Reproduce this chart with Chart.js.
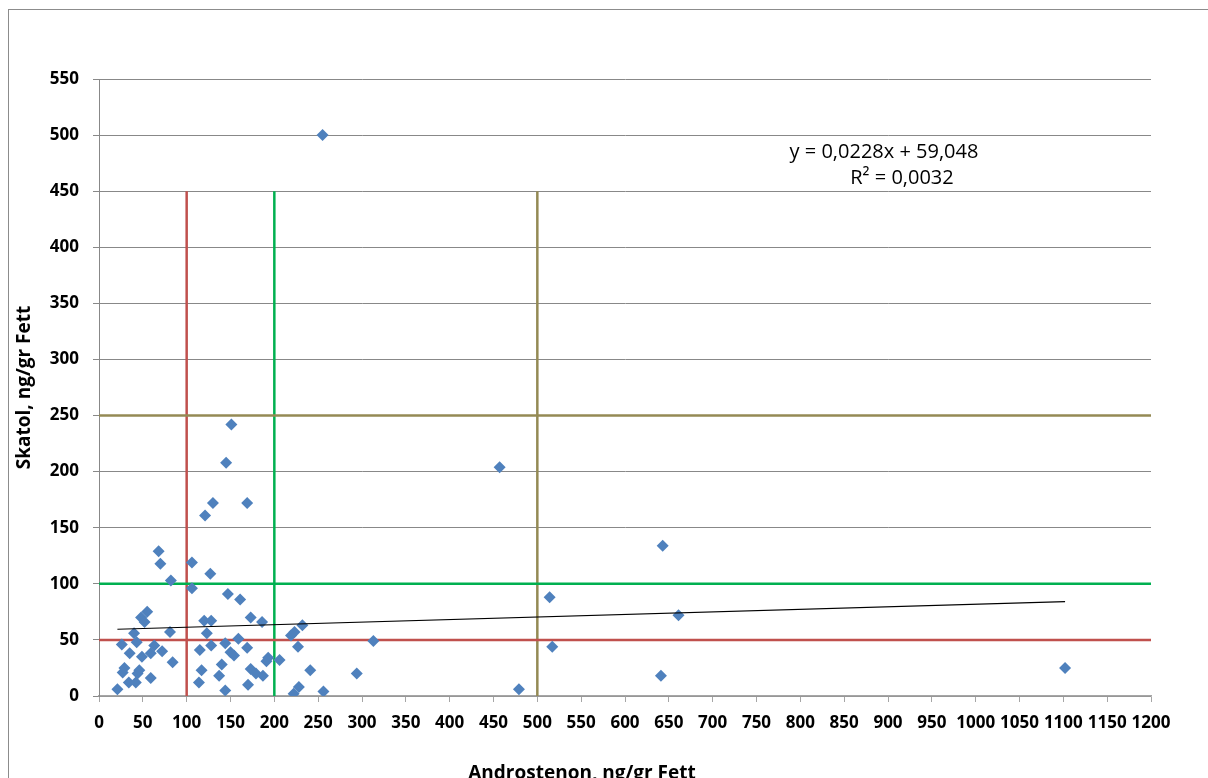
<!DOCTYPE html>
<html>
<head>
<meta charset="utf-8">
<title>Skatol / Androstenon</title>
<script src="https://cdn.jsdelivr.net/npm/chart.js@4.4.1/dist/chart.umd.min.js"></script>
<style>
  body { margin: 0; background: #fff; }
  #wrap { width: 1208px; height: 778px; overflow: hidden; }
</style>
</head>
<body>
<div id="wrap"><canvas id="skatolChart" width="1208" height="778"></canvas></div>
<script>
// --- data ---
const androstenon = [21,26,27,29,34,35,40,42,43,44,46,49,48,52,55,59,59,63,68,70,72,82,81,84,106,106,114,115,117,120,121,123,127,128,128,130,137,140,144,144,145,147,150,151,154,159,161,169,169,170,173,173,179,186,187,191,193,206,219,223,222,227,228,232,241,255,256,294,313,457,479,514,517,641,643,661,1102];
const skatol = [6,46,21,25,12,38,56,12,48,20,23,35,70,66,75,16,38,45,129,118,40,103,57,30,119,96,12,41,23,67,161,56,109,67,45,172,18,28,5,47,208,91,39,242,36,51,86,43,172,10,70,24,20,66,18,31,34,32,54,57,2,44,8,63,23,500,4,20,49,204,6,88,44,18,134,72,25];

// trendline (linear, Excel) – end points
const trendX = [21, 1102];
const trendY = [59.5, 84.2];
const trendLabel = ['y = 0,0228x + 59,048', 'R² = 0,0032'];

// limit lines
const vLimitX = [100, 200, 500];
const vLimitTop = 450;
const hLimitY = [250, 100, 50];
const xMin = 0, xMax = 1200, xStep = 50;
const yMin = 0, yMax = 550, yStep = 50;

const vLimitColors = ['#C0504D', '#00B050', '#948A54'];
const hLimitColors = ['#948A54', '#00B050', '#C0504D'];

const FONT = '"Open Sans", Lato, sans-serif';

document.addEventListener('DOMContentLoaded', () => {
    const ctx = document.getElementById('skatolChart').getContext('2d');

    const datasets = [];

    // pontos
    datasets.push({
        label: 'Skatol',
        data: androstenon.map((x, i) => ({ x: x, y: skatol[i] })),
        pointStyle: 'rectRot',
        pointRadius: 6,
        pointHoverRadius: 6,
        backgroundColor: '#4F81BD',
        borderColor: '#4F81BD',
        borderWidth: 0,
        showLine: false,
        order: 2
    });

    // trendline
    datasets.push({
        label: 'Trend',
        data: trendX.map((x, i) => ({ x: x, y: trendY[i] })),
        showLine: true,
        borderColor: '#000',
        borderWidth: 1.2,
        pointRadius: 0,
        fill: false,
        order: 1
    });

    vLimitX.forEach((x, i) => {
        datasets.push({
            label: 'v' + x,
            data: [{ x: x, y: yMin }, { x: x, y: vLimitTop }],
            showLine: true,
            borderColor: vLimitColors[i],
            borderWidth: 2.5,
            pointRadius: 0,
            order: 5
        });
    });

    hLimitY.forEach((y, i) => {
        datasets.push({
            label: 'h' + y,
            data: [{ x: xMin, y: y }, { x: xMax, y: y }],
            showLine: true,
            borderColor: hLimitColors[i],
            borderWidth: 2.5,
            pointRadius: 0,
            order: 4
        });
    });

    // borda externa, equação e título do eixo x
    const extras = {
        id: 'extras',
        beforeDraw(chart) {
            const c = chart.ctx;
            c.save();
            c.fillStyle = '#fff';
            c.fillRect(0, 0, chart.width, chart.height);
            c.strokeStyle = '#8c8c8c';
            c.lineWidth = 1;
            c.strokeRect(8.5, 9.5, 1400, 900);
            c.restore();
        },
        afterDraw(chart) {
            const c = chart.ctx;
            c.save();
            c.fillStyle = '#000';
            c.textAlign = 'center';
            c.textBaseline = 'alphabetic';
            c.font = '20px ' + FONT;
            c.fillText(trendLabel[0], 884, 158);
            c.fillText(trendLabel[1], 902, 184);
            c.font = 'bold 19px ' + FONT;
            c.fillText('Androstenon, ng/gr Fett', 582, 779);
            c.restore();
        }
    };

    new Chart(ctx, {
        type: 'scatter',
        data: { datasets: datasets },
        plugins: [extras],
        options: {
            responsive: false,
            animation: false,
            layout: { padding: { left: 8, top: 79, right: 57, bottom: 0 } },
            plugins: {
                legend: { display: false },
                tooltip: { enabled: false }
            },
            scales: {
                x: {
                    type: 'linear',
                    min: xMin,
                    max: xMax,
                    afterFit: s => { s.height = 82; },
                    ticks: {
                        stepSize: xStep,
                        autoSkip: false,
                        maxRotation: 0,
                        padding: 11,
                        color: '#000',
                        callback: v => String(v),
                        font: { family: FONT, size: 17, weight: 'bold' }
                    },
                    grid: { drawOnChartArea: false, tickLength: 6, color: '#a6a6a6' },
                    border: { color: '#a6a6a6', width: 1.5 }
                },
                y: {
                    type: 'linear',
                    min: yMin,
                    max: yMax,
                    afterFit: s => { s.width = 91; },
                    ticks: {
                        stepSize: yStep,
                        padding: 14,
                        color: '#000',
                        callback: v => String(v),
                        font: { family: FONT, size: 17, weight: 'bold' }
                    },
                    grid: { color: '#888', tickLength: 6 },
                    border: { color: '#888' },
                    title: {
                        display: true,
                        text: 'Skatol, ng/gr Fett',
                        color: '#000',
                        padding: { top: 5, bottom: 0 },
                        font: { family: FONT, size: 19, weight: 'bold' }
                    }
                }
            }
        }
    });
});
</script>
</body>
</html>
